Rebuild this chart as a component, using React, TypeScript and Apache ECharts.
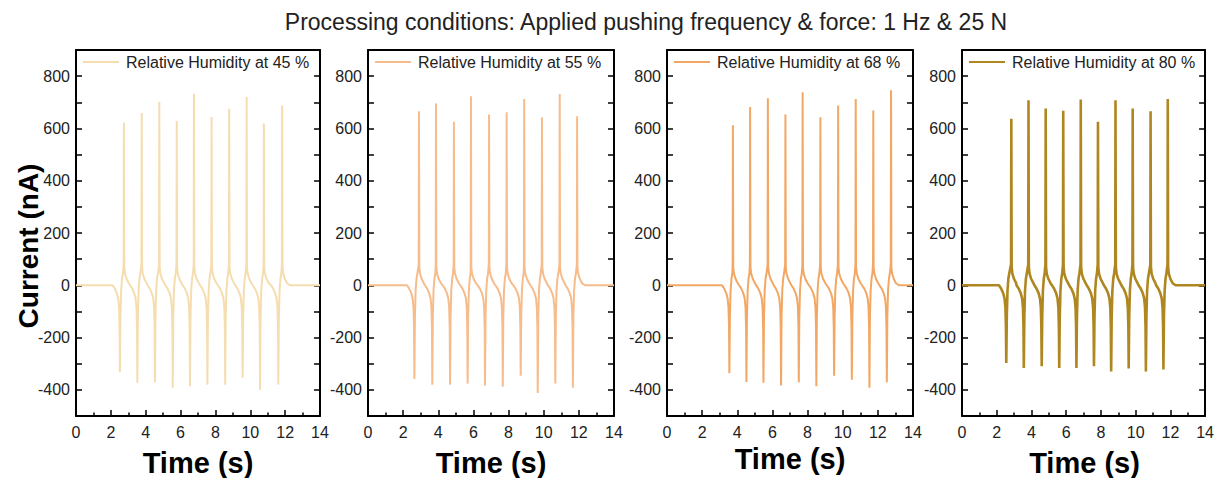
import React, { useEffect, useRef } from "react";
import * as echarts from "echarts";

const TITLE = "Processing conditions: Applied pushing frequency & force: 1 Hz & 25 N";
const Y_NAME = "Current (nA)";
const X_NAME = "Time (s)";
const SERIES_NAMES = [
  "Relative Humidity at 45 %",
  "Relative Humidity at 55 %",
  "Relative Humidity at 68 %",
  "Relative Humidity at 80 %",
];
const COLORS = ["#F5DDB0", "#F7BC8C", "#F2A864", "#AF8721"];
const LINE_WIDTHS = [2, 2, 2, 2.6];

// Peak readings per panel: negative spike times/values and positive spike times/values
const NEG_T_45 = [2.52, 3.52, 4.53, 5.55, 6.54, 7.54, 8.56, 9.56, 10.56, 11.61];
const NEG_V_45 = [-333, -373, -371, -392, -386, -380, -380, -354, -400, -380];
const POS_T_45 = [2.75, 3.77, 4.78, 5.78, 6.77, 7.78, 8.79, 9.79, 10.78, 11.83];
const POS_V_45 = [622, 659, 702, 628, 733, 644, 675, 720, 619, 688];

const NEG_T_55 = [2.64, 3.66, 4.67, 5.67, 6.66, 7.67, 8.69, 9.66, 10.66, 11.66];
const NEG_V_55 = [-358, -380, -380, -376, -383, -388, -346, -412, -376, -392];
const POS_T_55 = [2.9, 3.87, 4.89, 5.86, 6.89, 7.89, 8.89, 9.9, 10.91, 11.9];
const POS_V_55 = [666, 695, 626, 723, 653, 662, 713, 643, 732, 647];

const NEG_T_68 = [3.55, 4.52, 5.49, 6.49, 7.5, 8.5, 9.51, 10.52, 11.52, 12.51];
const NEG_V_68 = [-336, -370, -373, -383, -371, -386, -346, -361, -392, -371];
const POS_T_68 = [3.75, 4.73, 5.74, 6.74, 7.72, 8.73, 9.74, 10.74, 11.74, 12.75];
const POS_V_68 = [612, 682, 715, 653, 738, 643, 688, 713, 669, 746];

const NEG_T_80 = [2.55, 3.56, 4.59, 5.6, 6.59, 7.6, 8.59, 9.6, 10.59, 11.6];
const NEG_V_80 = [-297, -316, -310, -316, -316, -310, -330, -318, -330, -322];
const POS_T_80 = [2.84, 3.83, 4.82, 5.83, 6.84, 7.83, 8.84, 9.83, 10.86, 11.85];
const POS_V_80 = [637, 708, 676, 668, 711, 626, 708, 676, 666, 713];

// Pulse shape (offsets in s, values in nA)
const PRE_DT = [-0.42, -0.3, -0.18, -0.1, -0.05, -0.02];
const PRE_V = [0, -12, -30, -50, -85, -160];
const MID_DT = [0.03, 0.07, 0.12, 0.17];
const MID_V = [-120, -20, 25, 45];
const RISE_DT = -0.015;
const RISE_V = 80;
const POST_DT = [0.02, 0.06, 0.15, 0.28];
const POST_V = [70, 45, 25, 8];
const END_DT = 0.45;
const X_MIN = 0;
const X_MAX = 14;

const PANELS = [
  { nt: NEG_T_45, nv: NEG_V_45, pt: POS_T_45, pv: POS_V_45 },
  { nt: NEG_T_55, nv: NEG_V_55, pt: POS_T_55, pv: POS_V_55 },
  { nt: NEG_T_68, nv: NEG_V_68, pt: POS_T_68, pv: POS_V_68 },
  { nt: NEG_T_80, nv: NEG_V_80, pt: POS_T_80, pv: POS_V_80 },
];

function buildSeries(p: { nt: number[]; nv: number[]; pt: number[]; pv: number[] }) {
  const pts: number[][] = [[X_MIN, 0]];
  const n = p.nt.length;
  for (let i = 0; i < n; i++) {
    const tn = p.nt[i];
    const tp = p.pt[i];
    PRE_DT.forEach((d, k) => pts.push([tn + d, PRE_V[k]]));
    pts.push([tn, p.nv[i]]);
    MID_DT.forEach((d, k) => {
      if (tn + d < tp + RISE_DT - 0.005) pts.push([tn + d, MID_V[k]]);
    });
    pts.push([tp + RISE_DT, RISE_V]);
    pts.push([tp, p.pv[i]]);
    POST_DT.forEach((d, k) => pts.push([tp + d, POST_V[k]]));
    if (i === n - 1) pts.push([tp + END_DT, 0]);
  }
  pts.push([X_MAX, 0]);
  pts.sort((a, b) => a[0] - b[0]);
  return pts;
}

const GRIDS = [
  { left: 76, width: 244 },
  { left: 368, width: 246 },
  { left: 667, width: 246 },
  { left: 962, width: 245 },
];
const GRID_TOP = 50;
const GRID_HEIGHT = 366;
const FONT = "Liberation Sans, Arial, Helvetica, sans-serif";

export default function App() {
  const ref = useRef<HTMLDivElement>(null);
  useEffect(() => {
    document.body.style.margin = "0";
    if (!ref.current) return;
    const chart = echarts.init(ref.current, undefined, { renderer: "svg" });
    const axisLineStyle = { color: "#000", width: 2 };
    const tickStyle = { color: "#000", width: 1.5 };
    const grid: any[] = [];
    const xAxis: any[] = [];
    const yAxis: any[] = [];
    const series: any[] = [];
    const legend: any[] = [];
    const graphic: any[] = [];
    GRIDS.forEach((g, i) => {
      grid.push({ left: g.left, top: GRID_TOP, width: g.width, height: GRID_HEIGHT, containLabel: false });
      xAxis.push({
        type: "value",
        gridIndex: i,
        min: X_MIN,
        max: X_MAX,
        interval: 2,
        axisLine: { show: true, onZero: false, lineStyle: axisLineStyle },
        axisTick: { show: true, inside: true, length: 6, lineStyle: tickStyle },
        minorTick: { show: true, splitNumber: 2, length: 3.5, lineStyle: tickStyle },
        axisLabel: { fontSize: 16, color: "#222", margin: 8, fontFamily: FONT },
        splitLine: { show: false },
        minorSplitLine: { show: false },
      });
      xAxis.push({
        type: "value",
        gridIndex: i,
        position: "top",
        min: X_MIN,
        max: X_MAX,
        interval: 2,
        axisLine: { show: true, onZero: false, lineStyle: axisLineStyle },
        axisTick: { show: false },
        axisLabel: { show: false },
        splitLine: { show: false },
      });
      yAxis.push({
        type: "value",
        gridIndex: i,
        min: -500,
        max: 900,
        interval: 100,
        axisLine: { show: true, onZero: false, lineStyle: axisLineStyle },
        axisTick: { show: true, inside: true, length: 6, lineStyle: tickStyle },
        axisLabel: {
          fontSize: 16,
          color: "#222",
          margin: 6,
          fontFamily: FONT,
          formatter: (v: number) => (v % 200 === 0 ? String(v) : ""),
        },
        splitLine: { show: false },
      });
      yAxis.push({
        type: "value",
        gridIndex: i,
        position: "right",
        min: -500,
        max: 900,
        interval: 100,
        axisLine: { show: true, onZero: false, lineStyle: axisLineStyle },
        axisTick: { show: true, inside: true, length: 6, lineStyle: tickStyle },
        axisLabel: { show: false },
        splitLine: { show: false },
      });
      series.push({
        name: SERIES_NAMES[i],
        type: "line",
        xAxisIndex: 2 * i,
        yAxisIndex: 2 * i,
        data: buildSeries(PANELS[i]),
        showSymbol: false,
        symbol: "none",
        color: COLORS[i],
        lineStyle: { color: COLORS[i], width: LINE_WIDTHS[i] },
        emphasis: { disabled: true },
      });
      legend.push({
        data: [SERIES_NAMES[i]],
        left: g.left + 7,
        top: 54,
        padding: 0,
        icon: "rect",
        itemWidth: 36,
        itemHeight: 2,
        selectedMode: false,
        textStyle: { fontSize: 16, color: "#222", fontFamily: FONT, padding: [0, 0, 0, 2] },
      });
      graphic.push({
        type: "text",
        x: g.left + g.width / 2,
        y: i === 2 ? 459 : 463,
        style: {
          text: X_NAME,
          fontSize: 29,
          fontWeight: "bold",
          fill: "#000",
          fontFamily: FONT,
          align: "center",
          verticalAlign: "middle",
        },
      });
    });
    graphic.push({
      type: "text",
      x: 28,
      y: 246,
      rotation: Math.PI / 2,
      style: {
        text: Y_NAME,
        fontSize: 28,
        fontWeight: "bold",
        fill: "#000",
        fontFamily: FONT,
        align: "center",
        verticalAlign: "middle",
      },
    });
    graphic.push({
      type: "text",
      x: 646,
      y: 22,
      style: {
        text: TITLE,
        fontSize: 23,
        fill: "#222",
        fontFamily: FONT,
        align: "center",
        verticalAlign: "middle",
      },
    });
    chart.setOption({
      animation: false,
      backgroundColor: "#fff",
      grid,
      xAxis,
      yAxis,
      series,
      legend,
      graphic,
      tooltip: { show: false },
    });
    return () => chart.dispose();
  }, []);
  return <div ref={ref} style={{ width: 1217, height: 478 }} />;
}
